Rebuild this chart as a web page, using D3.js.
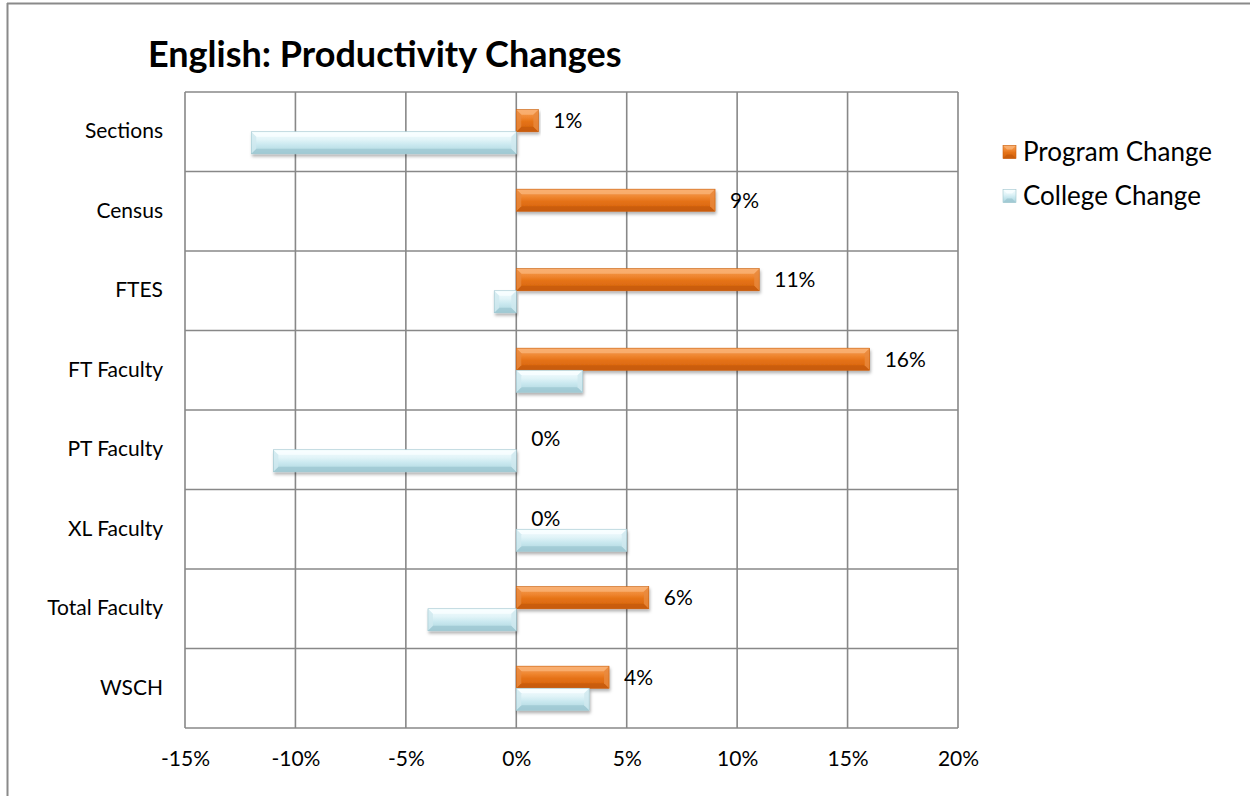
<!DOCTYPE html>
<html>
<head>
<meta charset="utf-8">
<script src="https://cdn.jsdelivr.net/npm/d3@7"></script>
<style>
  html, body { margin: 0; padding: 0; background: #fff; }
  svg { display: block; }
  text { font-family: Lato, "Open Sans", "Noto Sans", sans-serif; fill: #000; }
</style>
</head>
<body>
<svg id="chart" width="1250" height="796"></svg>
<script>
// Productivity indicators, percent change
const categories = ["Sections", "Census", "FTES", "FT Faculty", "PT Faculty", "XL Faculty", "Total Faculty", "WSCH"];
const programChange = [1, 9, 11, 16, 0, 0, 6, 4.2];
const collegeChange = [-12, 0, -1, 3, -11, 5, -4, 3.3];
const xTicks = [-15, -10, -5, 0, 5, 10, 15, 20];
const seriesNames = ["Program Change", "College Change"];

const svg = d3.select("#chart");
const W = 1250, H = 796;
const plot = { left: 185, right: 958, top: 92, bottom: 728 };
const labelSize = 21;

// outer frame (top and left edges visible)
svg.append("line").attr("x1", 7).attr("y1", 3.5).attr("x2", W).attr("y2", 3.5)
  .attr("stroke", "#8a8a8a").attr("stroke-width", 2);
svg.append("line").attr("x1", 7.5).attr("y1", 3).attr("x2", 7.5).attr("y2", H)
  .attr("stroke", "#8a8a8a").attr("stroke-width", 2);

// title
svg.append("text").attr("x", 148).attr("y", 67)
  .attr("font-size", 36).attr("font-weight", "bold")
  .text("English: Productivity Changes");

const x = d3.scaleLinear().domain([-15, 20]).range([plot.left, plot.right]);
const y = d3.scaleBand().domain(categories).range([plot.top, plot.bottom]).paddingInner(0).paddingOuter(0);
const ySub = d3.scaleBand().domain(["program", "college"]).range([0, y.bandwidth()]).paddingInner(0).paddingOuter(0.8);

// gradients
const defs = svg.append("defs");
function grad(id, stops) {
  const g = defs.append("linearGradient").attr("id", id).attr("x1", 0).attr("y1", 0).attr("x2", 0).attr("y2", 1);
  stops.forEach(s => g.append("stop").attr("offset", s[0]).attr("stop-color", s[1]));
}
grad("gOrange", [[0, "#f6a058"], [0.35, "#ef8630"], [0.55, "#e57216"], [1, "#d4620b"]]);
grad("gBlue", [[0, "#f4fcfe"], [0.35, "#e2f4f8"], [0.6, "#c9e8ef"], [1, "#abd4dd"]]);
const shadow = defs.append("filter").attr("id", "shadow").attr("x", "-10%").attr("y", "-30%").attr("width", "120%").attr("height", "170%");
shadow.append("feDropShadow").attr("dx", 1).attr("dy", 2.5).attr("stdDeviation", 1.6)
  .attr("flood-color", "#000").attr("flood-opacity", 0.3);

const palette = {
  program: { fill: "url(#gOrange)", top: "#f9b274", bottom: "#c45a0b", side: "#e98a3f", stroke: "#c96010" },
  college: { fill: "url(#gBlue)", top: "#f8feff", bottom: "#9cc6d0", side: "#cfe9ef", stroke: "#9fc5ce" }
};

// grid
const grid = svg.append("g");
xTicks.forEach(t => {
  grid.append("line").attr("x1", x(t)).attr("x2", x(t)).attr("y1", plot.top).attr("y2", plot.bottom)
    .attr("stroke", "#888").attr("stroke-width", 1.6);
});
categories.forEach(c => {
  grid.append("line").attr("x1", plot.left).attr("x2", plot.right).attr("y1", y(c)).attr("y2", y(c))
    .attr("stroke", "#888").attr("stroke-width", 1.6);
});
grid.append("line").attr("x1", plot.left).attr("x2", plot.right).attr("y1", plot.bottom).attr("y2", plot.bottom)
  .attr("stroke", "#888").attr("stroke-width", 1.6);

// x axis labels
const xAxis = d3.axisBottom(x).tickValues(xTicks).tickSize(0).tickPadding(23).tickFormat(d => d + "%");
svg.append("g").attr("transform", `translate(0,${plot.bottom})`).call(xAxis)
  .call(g => g.select(".domain").remove())
  .selectAll("text").attr("font-size", labelSize).attr("font-family", "Lato, 'Open Sans', sans-serif").attr("fill", "#000");

// category labels
const yAxis = d3.axisLeft(y).tickSize(0).tickPadding(22);
svg.append("g").attr("transform", `translate(${plot.left},0)`).call(yAxis)
  .call(g => g.select(".domain").remove())
  .selectAll("text").attr("font-size", labelSize).attr("font-family", "Lato, 'Open Sans', sans-serif").attr("fill", "#000");

// bevelled bar
function bevelBar(g, x0, x1, y0, y1, pal) {
  if (Math.abs(x1 - x0) < 0.5) return;
  const l = Math.min(x0, x1), r = Math.max(x0, x1);
  const b = Math.min(5, (r - l) / 2, (y1 - y0) / 2);
  const bar = g.append("g").attr("filter", "url(#shadow)");
  bar.append("rect").attr("x", l).attr("y", y0).attr("width", r - l).attr("height", y1 - y0).attr("fill", pal.fill);
  const poly = (pts, fill, op) => bar.append("polygon").attr("points", pts.map(p => p.join(",")).join(" ")).attr("fill", fill).attr("opacity", op);
  poly([[l, y0], [r, y0], [r - b, y0 + b], [l + b, y0 + b]], pal.top, 0.85);
  poly([[l, y1], [r, y1], [r - b, y1 - b], [l + b, y1 - b]], pal.bottom, 0.75);
  poly([[l, y0], [l + b, y0 + b], [l + b, y1 - b], [l, y1]], pal.side, 0.8);
  poly([[r, y0], [r - b, y0 + b], [r - b, y1 - b], [r, y1]], pal.side, 0.8);
  bar.append("rect").attr("x", l).attr("y", y0).attr("width", r - l).attr("height", y1 - y0)
    .attr("fill", "none").attr("stroke", pal.stroke).attr("stroke-width", 0.6);
}

const bars = svg.append("g");
categories.forEach((c, i) => {
  const yp = y(c) + ySub("program"), yc = y(c) + ySub("college"), h = ySub.bandwidth();
  bevelBar(bars, x(0), x(programChange[i]), yp, yp + h, palette.program);
  bevelBar(bars, x(0), x(collegeChange[i]), yc, yc + h, palette.college);
});

// value labels for program series
const fmt = v => Math.round(v) + "%";
svg.append("g").selectAll("text").data(categories).join("text")
  .attr("x", (c, i) => x(Math.max(0, programChange[i])) + 15)
  .attr("y", c => y(c) + ySub("program") + ySub.bandwidth() / 2)
  .attr("dy", "0.35em")
  .attr("font-size", labelSize)
  .text((c, i) => fmt(programChange[i]));

// legend
const legend = svg.append("g");
const legendKeys = ["program", "college"];
seriesNames.forEach((name, i) => {
  const cy = 152 + i * 44;
  const pal = palette[legendKeys[i]];
  const s = 13;
  const lx = 1003, ly = cy - s / 2;
  const gg = legend.append("g");
  gg.append("rect").attr("x", lx).attr("y", ly).attr("width", s).attr("height", s).attr("fill", pal.fill);
  const b = 4;
  const poly = (pts, fill, op) => gg.append("polygon").attr("points", pts.map(p => p.join(",")).join(" ")).attr("fill", fill).attr("opacity", op);
  poly([[lx, ly], [lx + s, ly], [lx + s - b, ly + b], [lx + b, ly + b]], pal.top, 0.85);
  poly([[lx, ly + s], [lx + s, ly + s], [lx + s - b, ly + s - b], [lx + b, ly + s - b]], pal.bottom, 0.75);
  gg.append("rect").attr("x", lx).attr("y", ly).attr("width", s).attr("height", s).attr("fill", "none").attr("stroke", pal.stroke).attr("stroke-width", 0.6);
  legend.append("text").attr("x", 1023).attr("y", cy).attr("dy", "0.35em").attr("font-size", 26).text(name);
});
</script>
</body>
</html>
